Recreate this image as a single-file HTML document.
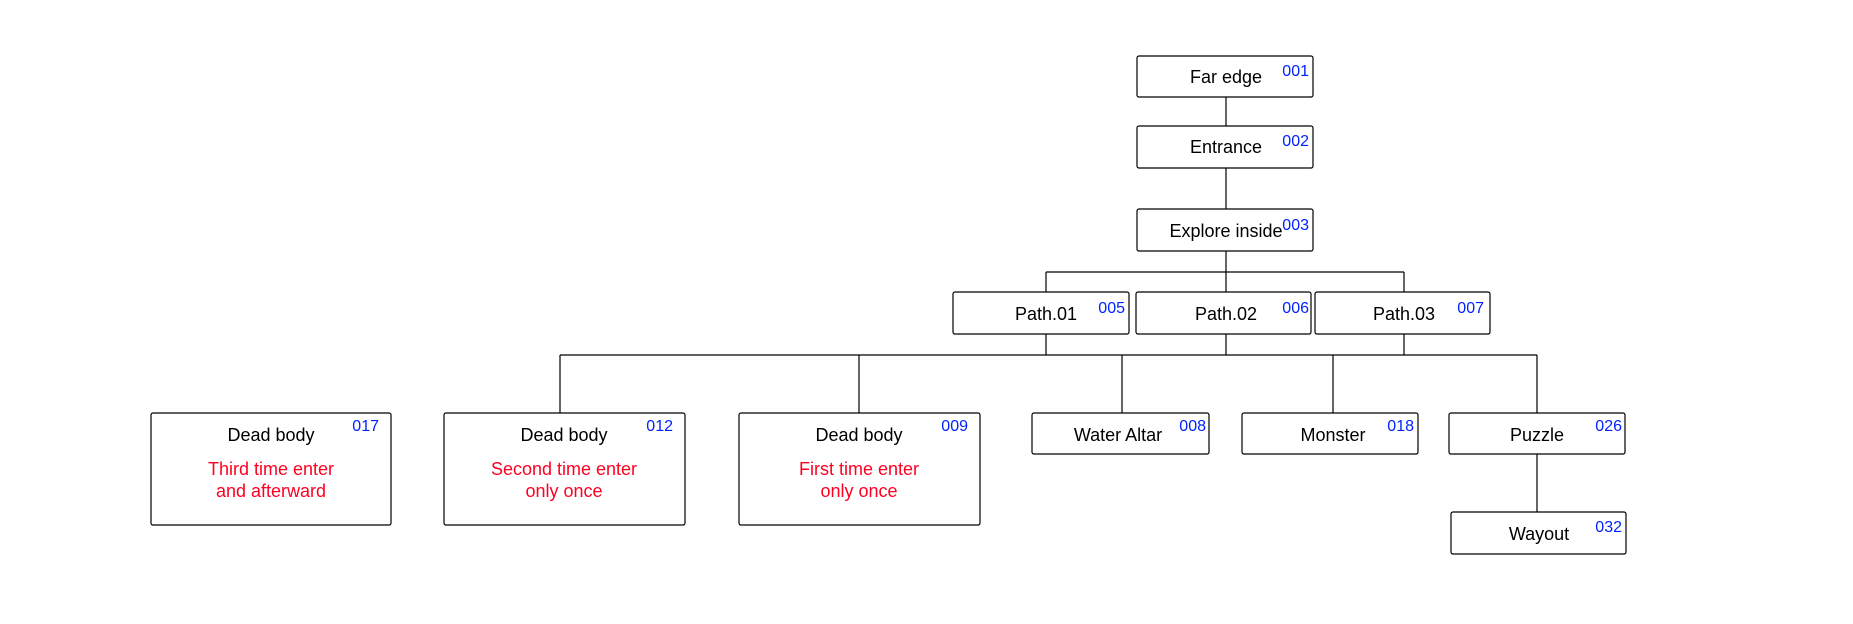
<!DOCTYPE html>
<html><head><meta charset="utf-8"><style>
html,body{margin:0;padding:0;background:#fff;}
svg{display:block;}
text{font-family:"Liberation Sans",Arial,sans-serif;}
.l{font-size:18px;fill:#000;text-anchor:middle;}
.n{font-size:16px;fill:#0022ff;text-anchor:end;}
.r{font-size:18px;fill:#ff0022;text-anchor:middle;}
rect{fill:#fff;stroke:#000;stroke-width:1.2;}
line{stroke:#000;stroke-width:1.2;}
</style></head><body>
<svg width="1853" height="624" viewBox="0 0 1853 624">
<line x1="1226" y1="97" x2="1226" y2="126"/>
<line x1="1226" y1="168" x2="1226" y2="209"/>
<line x1="1226" y1="251" x2="1226" y2="292"/>
<line x1="1046" y1="272" x2="1404" y2="272"/>
<line x1="1046" y1="272" x2="1046" y2="292"/>
<line x1="1404" y1="272" x2="1404" y2="292"/>
<line x1="1046" y1="334" x2="1046" y2="355"/>
<line x1="1226" y1="334" x2="1226" y2="355"/>
<line x1="1404" y1="334" x2="1404" y2="355"/>
<line x1="560" y1="355" x2="1537" y2="355"/>
<line x1="560" y1="355" x2="560" y2="413"/>
<line x1="859" y1="355" x2="859" y2="413"/>
<line x1="1122" y1="355" x2="1122" y2="413"/>
<line x1="1333" y1="355" x2="1333" y2="413"/>
<line x1="1537" y1="355" x2="1537" y2="413"/>
<line x1="1537" y1="454" x2="1537" y2="512"/>

<rect x="1137" y="56" width="176" height="41" rx="2"/>
<text class="l" x="1226" y="83">Far edge</text><text class="n" x="1309" y="76">001</text>
<rect x="1137" y="126" width="176" height="42" rx="2"/>
<text class="l" x="1226" y="153">Entrance</text><text class="n" x="1309" y="146">002</text>
<rect x="1137" y="209" width="176" height="42" rx="2"/>
<text class="l" x="1226" y="237">Explore inside</text><text class="n" x="1309" y="230">003</text>

<rect x="953" y="292" width="176" height="42" rx="2"/>
<text class="l" x="1046" y="320">Path.01</text><text class="n" x="1125" y="313">005</text>
<rect x="1136" y="292" width="175" height="42" rx="2"/>
<text class="l" x="1226" y="320">Path.02</text><text class="n" x="1309" y="313">006</text>
<rect x="1315" y="292" width="175" height="42" rx="2"/>
<text class="l" x="1404" y="320">Path.03</text><text class="n" x="1484" y="313">007</text>

<rect x="151" y="413" width="240" height="112" rx="2"/>
<text class="l" x="271" y="441">Dead body</text><text class="n" x="379" y="431">017</text>
<text class="r" x="271" y="475">Third time enter</text><text class="r" x="271" y="497">and afterward</text>

<rect x="444" y="413" width="241" height="112" rx="2"/>
<text class="l" x="564" y="441">Dead body</text><text class="n" x="673" y="431">012</text>
<text class="r" x="564" y="475">Second time enter</text><text class="r" x="564" y="497">only once</text>

<rect x="739" y="413" width="241" height="112" rx="2"/>
<text class="l" x="859" y="441">Dead body</text><text class="n" x="968" y="431">009</text>
<text class="r" x="859" y="475">First time enter</text><text class="r" x="859" y="497">only once</text>

<rect x="1032" y="413" width="177" height="41" rx="2"/>
<text class="l" x="1118" y="441">Water Altar</text><text class="n" x="1206" y="431">008</text>
<rect x="1242" y="413" width="176" height="41" rx="2"/>
<text class="l" x="1333" y="441">Monster</text><text class="n" x="1414" y="431">018</text>
<rect x="1449" y="413" width="176" height="41" rx="2"/>
<text class="l" x="1537" y="441">Puzzle</text><text class="n" x="1622" y="431">026</text>
<rect x="1451" y="512" width="175" height="42" rx="2"/>
<text class="l" x="1539" y="540">Wayout</text><text class="n" x="1622" y="532">032</text>
</svg>
</body></html>
